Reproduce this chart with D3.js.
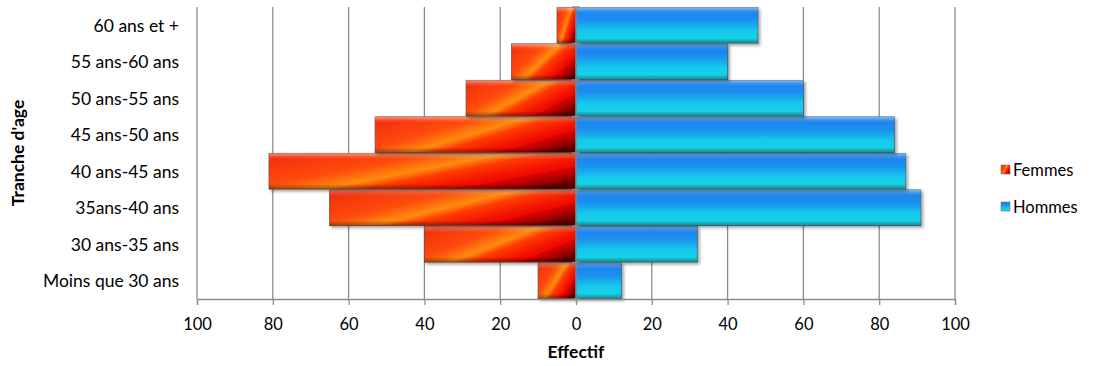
<!DOCTYPE html>
<html><head><meta charset="utf-8">
<script src="https://cdn.jsdelivr.net/npm/d3@7"></script>
<style>body{margin:0;background:#fff;}svg{display:block;font-family:Lato,"Open Sans",sans-serif;}</style>
</head><body>
<svg id="c" width="1096" height="366"></svg>
<script>
const categories = ["Moins que 30 ans","30 ans-35 ans","35ans-40 ans","40 ans-45 ans","45 ans-50 ans","50 ans-55 ans","55 ans-60 ans","60 ans et +"];
const femmes = [10,40,65,81,53,29,17,5];
const hommes = [12,32,91,87,84,60,40,48];
const tickValues = [-100,-80,-60,-40,-20,0,20,40,60,80,100];
const seriesNames = ["Femmes","Hommes"];

const svg = d3.select("#c");
const x = d3.scaleLinear().domain([-100,100]).range([197,955]);
const y = d3.scaleBand().domain(categories.slice().reverse()).range([7,299]).paddingInner(0.02).paddingOuter(0.01);
const plotTop = 7, plotBottom = 299;
const defs = svg.append("defs");

const gF = defs.append("linearGradient").attr("id","gF").attr("x1","0").attr("y1","0.2").attr("x2","1").attr("y2","0.8");
[[0,"#f4320c"],[0.3,"#ff4a08"],[0.48,"#ff8c10"],[0.58,"#ff3a02"],[0.78,"#f00800"],[0.92,"#a00000"],[1,"#600000"]].forEach(s=>gF.append("stop").attr("offset",s[0]).attr("stop-color",s[1]));
const gH = defs.append("linearGradient").attr("id","gH").attr("x1","0").attr("y1","0").attr("x2","0").attr("y2","1");
[[0,"#1d7ff0"],[0.35,"#1a8fee"],[0.65,"#18c8ec"],[1,"#1ad8e4"]].forEach(s=>gH.append("stop").attr("offset",s[0]).attr("stop-color",s[1]));
const gB = defs.append("linearGradient").attr("id","gB").attr("x1","0").attr("y1","0").attr("x2","0").attr("y2","1");
[[0,"#fff",0.45],[0.1,"#fff",0.12],[0.16,"#fff",0],[0.86,"#000",0],[0.92,"#000",0.18],[1,"#000",0.35]].forEach(s=>gB.append("stop").attr("offset",s[0]).attr("stop-color",s[1]).attr("stop-opacity",s[2]));
const f = defs.append("filter").attr("id","sh").attr("x","-5%").attr("y","-20%").attr("width","115%").attr("height","150%");
f.append("feDropShadow").attr("dx",2).attr("dy",2).attr("stdDeviation",1.5).attr("flood-color","#000").attr("flood-opacity",0.35);

// grid
svg.append("g").selectAll("line").data(tickValues).join("line")
  .attr("x1",d=>x(d)).attr("x2",d=>x(d)).attr("y1",plotTop).attr("y2",plotBottom)
  .attr("stroke","#8c8c8c").attr("stroke-width",1.3);

// bars
const data = categories.map((c,i)=>({c,f:femmes[i],h:hommes[i]}));
const gBars = svg.append("g");
data.forEach(d=>{
  const yy = y(d.c), hh = y.bandwidth();
  const g = gBars.append("g").attr("filter","url(#sh)");
  g.append("rect").attr("x",x(-d.f)).attr("y",yy).attr("width",x(0)-x(-d.f)).attr("height",hh)
    .attr("fill","url(#gF)").attr("stroke","#7a4a3a").attr("stroke-width",0.8);
  g.append("rect").attr("x",x(-d.f)).attr("y",yy).attr("width",x(0)-x(-d.f)).attr("height",hh).attr("fill","url(#gB)");
  const g2 = gBars.append("g").attr("filter","url(#sh)");
  g2.append("rect").attr("x",x(0)).attr("y",yy).attr("width",x(d.h)-x(0)).attr("height",hh)
    .attr("fill","url(#gH)").attr("stroke","#3a6a80").attr("stroke-width",0.8);
  g2.append("rect").attr("x",x(0)).attr("y",yy).attr("width",x(d.h)-x(0)).attr("height",hh).attr("fill","url(#gB)");
});

// zero axis line with category ticks
svg.append("line").attr("x1",x(0)).attr("x2",x(0)).attr("y1",plotTop).attr("y2",plotBottom).attr("stroke","#8c8c8c").attr("stroke-width",1.3);
const bounds = d3.range(categories.length+1).map(i=>plotTop + i*(plotBottom-plotTop)/categories.length);
svg.append("g").selectAll("line").data(bounds).join("line")
  .attr("x1",x(0)-4).attr("x2",x(0)+4).attr("y1",d=>d).attr("y2",d=>d).attr("stroke","#8c8c8c").attr("stroke-width",1.3);

// bottom axis
const ax = svg.append("g").attr("transform",`translate(0,${plotBottom})`)
  .call(d3.axisBottom(x).tickValues(tickValues).tickFormat(d=>Math.abs(d)).tickSize(6).tickPadding(13));
ax.select(".domain").attr("stroke","#8c8c8c").attr("stroke-width",1.3);
ax.selectAll(".tick line").attr("stroke","#8c8c8c").attr("stroke-width",1.3);
ax.selectAll("text").attr("font-size",16.5).attr("fill","#000").attr("font-family","Lato,sans-serif");

// category labels
svg.append("g").selectAll("text").data(categories).join("text")
  .attr("x",179).attr("y",d=>y(d)+y.bandwidth()/2).attr("dy","0.36em")
  .attr("text-anchor","end").attr("font-size",17.5).attr("fill","#000").text(d=>d);

// axis titles
svg.append("text").attr("x",x(0)).attr("y",358).attr("text-anchor","middle").attr("font-size",17.5).attr("font-weight","bold").text("Effectif");
svg.append("text").attr("transform","translate(24,153) rotate(-90)").attr("text-anchor","middle").attr("font-size",17.5).attr("font-weight","bold").text("Tranche d'age");

// legend
const lg = svg.append("g");
seriesNames.forEach((n,i)=>{
  const yy = 170 + i*37;
  lg.append("rect").attr("x",1001).attr("y",yy-5).attr("width",9).attr("height",9)
    .attr("fill",i===0?"url(#gF)":"url(#gH)").attr("stroke","#777").attr("stroke-width",0.6);
  lg.append("text").attr("x",1013).attr("y",yy).attr("dy","0.36em").attr("font-size",16.5).text(n);
});
</script>
</body></html>
